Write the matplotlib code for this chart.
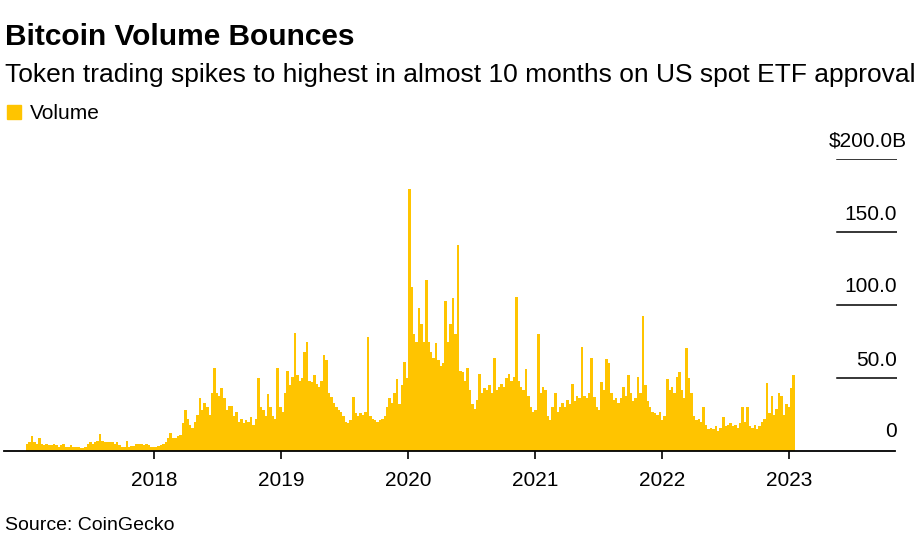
import matplotlib
matplotlib.use("Agg")
import matplotlib.pyplot as plt
import matplotlib.dates as mdates
import pandas as pd

plt.rcParams['font.family'] = ['Liberation Sans', 'DejaVu Sans']

YELLOW = "#FFC400"

# weekly bitcoin trading volume, $ billions
volume = [
    5, 6, 10, 6, 5, 9, 5, 4, 5, 4,
    4, 5, 4, 3, 4, 5, 3, 3, 4, 3,
    3, 2.5, 2, 2, 3, 5, 6, 5, 6, 7,
    11.5, 7, 6, 6, 6, 6, 5, 6, 4, 3,
    3, 7, 3, 3.5, 3.5, 5, 4.5, 5, 4, 5,
    4, 3, 3, 3, 3.5, 4, 5, 6, 9, 12,
    9, 9, 10, 11, 19, 28, 22, 18, 16, 20,
    25, 36, 28, 33, 30, 25, 40, 57, 40, 38,
    43, 36, 28, 31, 31, 24, 27, 20, 22, 19,
    21, 20, 23, 18, 22, 50, 30, 28, 24, 39,
    30, 24, 22, 57, 30, 27, 40, 55, 45, 51,
    81, 52, 48, 50, 68, 75, 48, 47, 52, 46,
    44, 48, 66, 62, 40, 37, 33, 30, 28, 27,
    24, 20, 19, 21, 37, 26, 24, 26, 25, 27,
    78, 24, 22, 21, 20, 21, 22, 24, 30, 36,
    33, 40, 49, 32, 45, 61, 50, 179.5, 112, 80,
    75, 98, 87, 75, 117, 75, 68, 64, 74, 62,
    58, 60, 103, 75, 87, 105, 80, 141, 55, 54,
    48, 57, 42, 32, 29, 35, 53, 40, 43, 42,
    45, 40, 64, 42, 44, 46, 44, 50, 53, 48,
    51, 105.5, 48, 44, 42, 56, 38, 30, 27, 28,
    80, 40, 44, 42, 24, 21, 30, 40, 27, 30,
    33, 30, 35, 32, 46, 34, 38, 36, 71, 38,
    36, 40, 64, 37, 30, 28, 47, 42, 63, 60,
    40, 35, 36, 33, 36, 44, 38, 52, 40, 34,
    36, 51, 40, 92.5, 45, 34, 30, 27, 26, 25,
    27, 21, 24, 49, 42, 44, 40, 51, 54, 42,
    36, 70.5, 50, 40, 24, 21, 22, 20, 30, 18,
    15, 16, 15, 17, 14, 16, 23, 17, 18, 19,
    17, 18, 16, 19, 30, 20, 30, 17, 16, 18,
    15, 17, 20, 22, 46.5, 26, 38, 25, 29, 40,
    38, 25, 32, 30, 43, 52,
]
dates = pd.date_range("2017-01-01", periods=len(volume), freq="7D")

year_ticks = ["2018", "2019", "2020", "2021", "2022", "2023"]
y_ticks = [0, 50, 100, 150, 200]
y_labels = ["0", "50.0", "100.0", "150.0", "$200.0B"]

W, H = 921, 546


def fx(x):
    return x / W


def fy(y):
    return 1 - y / H


fig = plt.figure(figsize=(W / 100, H / 100), dpi=100)
ax = fig.add_axes([fx(4), 95 / H, 893 / W, 292 / H])

ax.bar(dates, volume, width=7.6, color=YELLOW, linewidth=0, align="center")

# x range: one year ~127 px, 2018 tick at x=154
day_px = 365.25 / 127
x0 = mdates.date2num(pd.Timestamp("2018-01-01"))
ax.set_xlim(x0 - 150 * day_px, x0 + 743 * day_px)
ax.set_ylim(0, 200)

ax.set_xticks([pd.Timestamp(y + "-01-01") for y in year_ticks])
ax.set_xticklabels(year_ticks)
ax.tick_params(axis="x", length=5.5, width=1.2, color="black", pad=9,
               labelsize=15, labelcolor="black")
ax.set_yticks([])
for s in ["left", "top", "right"]:
    ax.spines[s].set_visible(False)
ax.spines["bottom"].set_linewidth(1.3)
ax.spines["bottom"].set_color("black")
ax.spines["bottom"].set_bounds(x0 - 150 * day_px, x0 + 741 * day_px)

# short gridlines on the right + labels
for val, lab in zip(y_ticks, y_labels):
    if val > 0:
        ax.axhline(val, xmin=(837 - 4) / 893, xmax=1.0, color="black", lw=1.1)
    dx = 7.2 if lab.endswith("B") else 0
    dy = 10 if val == 0 else 9
    ax.annotate(lab, xy=(1, val), xycoords=("axes fraction", "data"),
                xytext=(dx, dy), textcoords="offset points",
                ha="right", va="baseline", fontsize=15, color="black")

fig.text(fx(5), fy(45), "Bitcoin Volume Bounces", fontsize=21.5, fontweight="bold",
         va="baseline", ha="left")
fig.text(fx(5), fy(82),
         "Token trading spikes to highest in almost 10 months on US spot ETF approval",
         fontsize=19, va="baseline", ha="left")
fig.patches.append(plt.Rectangle((fx(7), fy(119)), 14 / W, 14 / H,
                                 transform=fig.transFigure, color=YELLOW))
fig.text(fx(30), fy(119), "Volume", fontsize=15, va="baseline", ha="left")
fig.text(fx(5), fy(530), "Source: CoinGecko", fontsize=14, va="baseline", ha="left")

fig.savefig("out.png", dpi=100)
